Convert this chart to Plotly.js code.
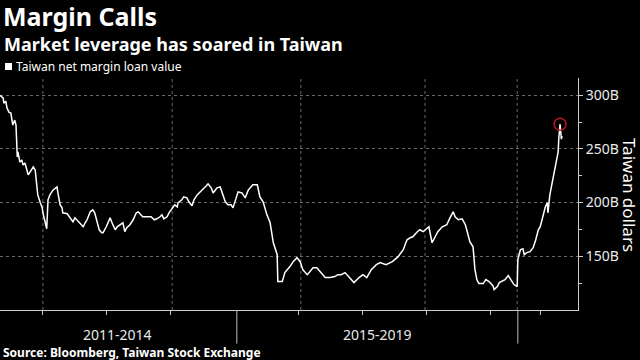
<!DOCTYPE html>
<html>
<head>
<meta charset="utf-8">
<script src="https://cdn.plot.ly/plotly-3.0.1.min.js"></script>
<style>
  html, body { margin: 0; padding: 0; background: #000; }
  #chart { width: 640px; height: 360px; }
</style>
</head>
<body>
<div id="chart"></div>
<script>
// Decimal-year positions of the observations
const dates = [
  2011.33,2011.38,2011.39,2011.42,2011.44,2011.47,2011.50,2011.53,2011.56,2011.58,
  2011.60,2011.61,2011.64,2011.67,2011.69,2011.72,2011.75,2011.77,2011.80,2011.83,
  2011.85,2011.88,2011.91,2011.92,2011.96,2011.99,2012.00,2012.03,2012.06,2012.08,
  2012.11,2012.16,2012.19,2012.22,2012.24,2012.27,2012.30,2012.31,2012.38,2012.42,
  2012.47,2012.50,2012.53,2012.58,2012.63,2012.66,2012.69,2012.74,2012.78,2012.81,
  2012.85,2012.88,2012.92,2012.94,2012.99,2013.02,2013.05,2013.08,2013.13,2013.16,
  2013.20,2013.25,2013.28,2013.31,2013.36,2013.41,2013.46,2013.49,2013.53,2013.56,
  2013.63,2013.69,2013.74,2013.78,2013.83,2013.86,2013.89,2013.94,2013.97,2014.03,
  2014.06,2014.10,2014.11,2014.17,2014.20,2014.25,2014.28,2014.33,2014.36,2014.41,
  2014.46,2014.50,2014.55,2014.58,2014.63,2014.66,2014.72,2014.77,2014.80,2014.85,
  2014.89,2014.94,2014.97,2015.03,2015.05,2015.11,2015.16,2015.21,2015.28,2015.35,
  2015.39,2015.44,2015.50,2015.55,2015.60,2015.66,2015.67,2015.74,2015.78,2015.86,
  2015.91,2015.97,2016.02,2016.06,2016.13,2016.17,2016.22,2016.28,2016.33,2016.41,
  2016.49,2016.56,2016.61,2016.66,2016.72,2016.78,2016.86,2016.94,2017.00,2017.06,
  2017.13,2017.21,2017.27,2017.36,2017.46,2017.55,2017.61,2017.63,2017.67,2017.69,
  2017.74,2017.78,2017.85,2017.89,2017.94,2018.00,2018.03,2018.08,2018.13,2018.17,
  2018.24,2018.31,2018.36,2018.41,2018.44,2018.49,2018.55,2018.60,2018.63,2018.67,
  2018.72,2018.75,2018.78,2018.81,2018.88,2018.92,2018.97,2019.03,2019.05,2019.10,
  2019.13,2019.19,2019.22,2019.27,2019.31,2019.36,2019.41,2019.42,2019.46,2019.50,
  2019.52,2019.56,2019.61,2019.66,2019.70,2019.74,2019.77,2019.81,2019.85,2019.88,
  2019.89,2019.92,2019.97,2020.03,2020.05,2020.06,2020.08,2020.10,2020.11
];

// Taiwan net margin loan value, billions of Taiwan dollars
const loanValue = [
  300.0,297.2,292.6,294.4,287.9,284.2,283.3,272.2,276.8,272.2,
  242.5,247.1,237.8,239.7,235.0,236.9,230.4,225.8,228.5,232.3,
  233.2,230.4,214.6,207.2,199.8,195.1,190.5,184.0,175.6,202.6,
  207.2,211.8,213.7,214.6,207.2,197.9,195.1,190.5,189.6,185.8,
  182.1,185.8,184.0,181.2,177.5,181.2,184.0,191.4,193.3,190.5,
  181.2,174.7,171.9,171.9,177.5,182.1,185.8,181.2,174.7,177.5,
  179.4,181.2,172.9,176.6,179.4,184.0,190.5,191.4,188.6,186.8,
  186.8,186.8,184.0,184.9,186.8,188.6,184.9,186.8,190.5,195.1,
  197.9,196.1,199.8,202.6,205.3,204.4,200.7,197.0,202.6,207.2,
  210.0,211.8,215.5,217.4,213.7,209.0,213.7,214.6,210.0,200.7,
  197.9,197.9,195.1,205.3,210.0,209.0,204.4,211.8,216.5,216.5,
  205.3,200.7,188.6,181.2,162.6,151.5,126.5,126.5,134.8,140.4,
  145.0,148.7,145.0,137.6,132.9,135.7,139.4,139.4,135.7,130.2,
  130.2,131.1,132.9,132.9,134.8,131.1,125.5,130.2,132.9,130.2,
  137.6,142.2,144.1,142.2,145.0,149.7,154.3,156.1,162.6,165.4,
  167.3,168.2,172.9,174.7,172.9,176.6,177.5,162.6,168.2,172.9,
  177.5,179.4,185.8,191.4,186.8,184.0,184.9,179.4,172.9,163.6,
  158.9,137.6,128.3,124.6,124.6,128.3,126.5,122.7,119.0,121.8,
  125.5,127.4,128.3,132.0,128.3,123.7,121.8,146.9,156.1,157.1,
  151.5,153.4,154.3,158.0,165.4,174.7,177.5,186.8,196.1,199.8,
  190.5,207.2,223.0,239.7,247.1,260.1,273.0,259.0,262.0
];

// Highlighted observation (red circle): the recent high
const highlightDate = 2020.08;

// Axis decorations
const yearTicks = [2012, 2013, 2014, 2016, 2017, 2018, 2019, 2019.77];
const gridYears = [2012.0, 2014.02, 2016.03, 2017.97, 2019.41];
const periodBreaks = [2015.03, 2019.42];
const periodLabels = ['2011-2014', '2015-2019'];
const periodCenters = [2013.17, 2017.22];
const yTickVals = [150, 200, 250, 300];
const yTickText = ['150B', '200B', '250B', '300B'];

const xRange = [2011.33, 2020.36];
const yRange = [100, 316];

const hiIdx = dates.indexOf(highlightDate);

const traces = [
  {
    x: dates, y: loanValue, type: 'scatter', mode: 'lines',
    line: { color: '#ffffff', width: 1.5 },
    name: 'Taiwan net margin loan value', showlegend: false, hoverinfo: 'skip'
  },
  {
    x: [dates[hiIdx]], y: [loanValue[hiIdx]], type: 'scatter', mode: 'markers',
    marker: { symbol: 'circle-open', size: 12, color: '#b3142a', line: { width: 1.5, color: '#b3142a' } },
    showlegend: false, hoverinfo: 'skip'
  }
];

const shapes = [];
gridYears.forEach(g => shapes.push({
  type: 'line', xref: 'x', yref: 'paper', x0: g, x1: g, y0: 0, y1: 1,
  line: { color: '#6a6a6a', width: 1, dash: 'dot' }, layer: 'below'
}));
periodBreaks.forEach(b => shapes.push({
  type: 'line', xref: 'x', yref: 'paper', x0: b, x1: b, y0: 0, y1: -0.145,
  line: { color: '#bdbdbd', width: 1 }
}));
// legend swatch
shapes.push({
  type: 'rect', xref: 'paper', yref: 'paper',
  x0: 5 / 578, x1: 12 / 578, y0: (310 - 70) / 232, y1: (310 - 63) / 232,
  fillcolor: '#ffffff', line: { width: 0 }
});

const annotations = [
  {
    text: '<b>Margin Calls</b>', xref: 'paper', yref: 'paper',
    x: 1 / 578, y: (310 - 16) / 232, xanchor: 'left', yanchor: 'middle', showarrow: false,
    font: { family: 'Noto Sans', size: 25, color: '#ffffff' }
  },
  {
    text: '<b>Market leverage has soared in Taiwan</b>', xref: 'paper', yref: 'paper',
    x: 2 / 578, y: (310 - 30) / 232, xanchor: 'left', yanchor: 'top', showarrow: false,
    font: { family: 'Noto Sans', size: 18, color: '#ffffff' }
  },
  {
    text: 'Taiwan net margin loan value', xref: 'paper', yref: 'paper',
    x: 14 / 578, y: (310 - 66.5) / 232, xanchor: 'left', yanchor: 'middle', showarrow: false,
    font: { family: 'Noto Sans', size: 12, color: '#ffffff' }
  },
  {
    text: 'Taiwan dollars', xref: 'paper', yref: 'paper', textangle: 90,
    x: 630 / 578, y: (310 - 195) / 232, xanchor: 'center', yanchor: 'middle', showarrow: false,
    font: { family: 'Noto Sans', size: 17, color: '#ffffff' }
  },
  {
    text: '<b>Source: Bloomberg, Taiwan Stock Exchange</b>', xref: 'paper', yref: 'paper',
    x: 2 / 578, y: (310 - 352) / 232, xanchor: 'left', yanchor: 'middle', showarrow: false,
    borderpad: 0,
    font: { family: 'Noto Sans', size: 12, color: '#ffffff' }
  }
];
periodLabels.forEach((lab, i) => annotations.push({
  text: lab, xref: 'x', yref: 'paper', x: periodCenters[i], y: (310 - 334.5) / 232,
  xanchor: 'center', yanchor: 'middle', showarrow: false, borderpad: 0,
  font: { family: 'Noto Sans', size: 14, color: '#e8e8e8' }
}));

const layout = {
  width: 640, height: 360,
  paper_bgcolor: '#000000', plot_bgcolor: '#000000',
  margin: { l: 0, r: 62, t: 78, b: 50, pad: 0 },
  showlegend: false,
  xaxis: {
    type: 'linear', range: xRange, tickvals: yearTicks, showticklabels: false,
    ticks: 'outside', ticklen: 4, tickcolor: '#bdbdbd', tickwidth: 1,
    showgrid: false, zeroline: false, showline: true, linecolor: '#d0d0d0', linewidth: 1,
    fixedrange: true
  },
  yaxis: {
    side: 'right', range: yRange, tickvals: yTickVals, ticktext: yTickText,
    ticks: 'outside', ticklen: 4, tickcolor: '#d0d0d0',
    minor: { tickvals: [125, 175, 225, 275], ticks: 'outside', ticklen: 3, tickcolor: '#d0d0d0', showgrid: false },
    showgrid: true, gridcolor: '#6a6a6a', griddash: 'dot', gridwidth: 1,
    zeroline: false, showline: true, linecolor: '#d0d0d0', linewidth: 1,
    tickfont: { family: 'Noto Sans', size: 14, color: '#ececec' },
    fixedrange: true
  },
  shapes: shapes,
  annotations: annotations
};

Plotly.newPlot('chart', traces, layout, { displayModeBar: false, staticPlot: true });
</script>
</body>
</html>
